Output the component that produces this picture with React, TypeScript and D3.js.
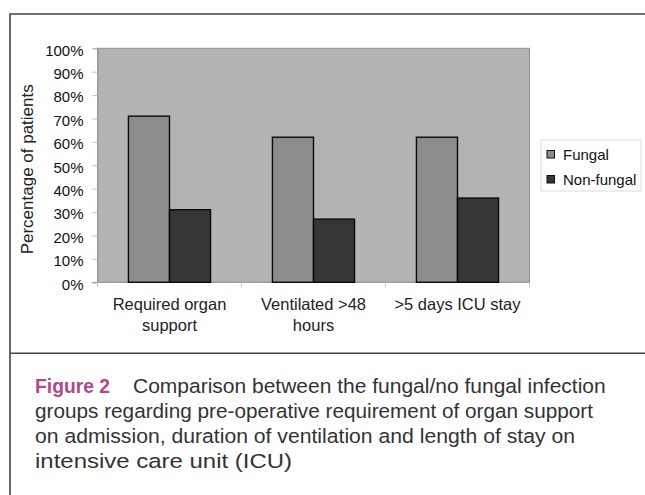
import { useEffect, useRef } from "react"
import * as d3 from "d3"

// data
const categories = [["Required organ", "support"], ["Ventilated >48", "hours"], [">5 days ICU stay"]]
const seriesNames = ["Fungal", "Non-fungal"]
const fungal = [71, 62, 62]
const nonFungal = [31, 27, 36]
const yTicks = [0, 10, 20, 30, 40, 50, 60, 70, 80, 90, 100]
const captionLines = [
  "Comparison between the fungal/no fungal infection",
  "groups regarding pre-operative requirement of organ support",
  "on admission, duration of ventilation and length of stay on",
  "intensive care unit (ICU)",
]

const FONT = "'Liberation Sans', Arial, sans-serif"

export default function App() {
  const svgRef = useRef<SVGSVGElement>(null)

  useEffect(() => {
    if (!svgRef.current) return
    const width = 645
    const height = 495
    const svg = d3.select(svgRef.current).attr("width", width).attr("height", height)
    svg.selectAll("*").remove()

    const colors = ["#8c8c8c", "#363636"]
    const plot = { left: 97.5, right: 529.5, top: 48.3, bottom: 282.3 }

    // outer frame
    svg
      .append("path")
      .attr("d", `M${width + 2},14 H10 V${height + 2} M10,353.3 H${width + 2}`)
      .attr("fill", "none")
      .attr("stroke", "#444")
      .attr("stroke-width", 1.6)

    const x0 = d3
      .scaleBand<number>()
      .domain(d3.range(categories.length))
      .range([plot.left, plot.right])
      .padding(0)
    const inset = x0.bandwidth() * 0.215
    const x1 = d3
      .scaleBand<string>()
      .domain(seriesNames)
      .range([inset, x0.bandwidth() - inset])
      .padding(0)
    const y = d3.scaleLinear().domain([0, 100]).range([plot.bottom, plot.top])

    // plot background
    svg
      .append("rect")
      .attr("x", plot.left)
      .attr("y", plot.top)
      .attr("width", plot.right - plot.left)
      .attr("height", plot.bottom - plot.top)
      .attr("fill", "#b3b3b3")
      .attr("stroke", "#8f8f8f")
      .attr("stroke-width", 1)

    // y axis
    const yAxis = svg.append("g").attr("transform", `translate(${plot.left},0)`)
    yAxis
      .call(
        d3
          .axisLeft(y)
          .tickValues(yTicks)
          .tickSize(5)
          .tickPadding(9)
          .tickFormat((d) => `${d}%`),
      )
    yAxis.select(".domain").attr("stroke", "#9a9a9a")
    yAxis.selectAll(".tick line").attr("stroke", "#bdbdbd")
    yAxis
      .selectAll(".tick text")
      .attr("fill", "#111")
      .attr("dy", "0.45em")
      .style("font-family", FONT)
      .style("font-size", "15px")

    // x axis line + category separators
    const xAxis = svg.append("g")
    xAxis
      .append("line")
      .attr("x1", plot.left - 5)
      .attr("x2", plot.right)
      .attr("y1", plot.bottom)
      .attr("y2", plot.bottom)
      .attr("stroke", "#a0a0a0")
    xAxis
      .selectAll(".sep")
      .data(d3.range(categories.length + 1))
      .enter()
      .append("line")
      .attr("x1", (i) => (i < categories.length ? x0(i)! : plot.right))
      .attr("x2", (i) => (i < categories.length ? x0(i)! : plot.right))
      .attr("y1", plot.bottom)
      .attr("y2", plot.bottom + 5)
      .attr("stroke", "#c8c8c8")

    // bars
    const groups = svg
      .selectAll(".grp")
      .data(categories.map((_, i) => i))
      .enter()
      .append("g")
      .attr("transform", (i) => `translate(${x0(i)},0)`)

    groups
      .selectAll("rect")
      .data((i) => [fungal[i], nonFungal[i]].map((v, s) => ({ v, s })))
      .enter()
      .append("rect")
      .attr("x", (d) => x1(seriesNames[d.s])!)
      .attr("y", (d) => y(d.v))
      .attr("width", x1.bandwidth())
      .attr("height", (d) => y(0) - y(d.v))
      .attr("fill", (d) => colors[d.s])
      .attr("stroke", "#0a0a0a")
      .attr("stroke-width", 1.4)

    // category labels
    const catLabels = svg
      .selectAll(".cat")
      .data(categories)
      .enter()
      .append("text")
      .attr("text-anchor", "middle")
      .attr("fill", "#222")
      .style("font-family", FONT)
      .style("font-size", "16.5px")
    catLabels
      .selectAll("tspan")
      .data((d, i) => d.map((t) => ({ t, i })))
      .enter()
      .append("tspan")
      .attr("x", (d) => x0(d.i)! + x0.bandwidth() / 2)
      .attr("y", (d, j) => 309.5 + j * 21)
      .text((d) => d.t)

    // y axis title
    svg
      .append("text")
      .attr("transform", `translate(33,${(plot.top + plot.bottom) / 2 + 4}) rotate(-90)`)
      .attr("text-anchor", "middle")
      .attr("fill", "#222")
      .style("font-family", FONT)
      .style("font-size", "17px")
      .text("Percentage of patients")

    // legend
    const legend = svg.append("g")
    legend
      .append("rect")
      .attr("x", 541)
      .attr("y", 140)
      .attr("width", 100)
      .attr("height", 51)
      .attr("fill", "#fff")
      .attr("stroke", "#dcdcdc")
    const items = legend
      .selectAll(".item")
      .data(seriesNames)
      .enter()
      .append("g")
      .attr("transform", (d, i) => `translate(547,${150.5 + i * 25})`)
    items
      .append("rect")
      .attr("width", 7.5)
      .attr("height", 7.5)
      .attr("fill", (d, i) => colors[i])
      .attr("stroke", "#111")
    items
      .append("text")
      .attr("x", 16)
      .attr("y", 9)
      .attr("fill", "#111")
      .style("font-family", FONT)
      .style("font-size", "15px")
      .text((d) => d)

    // caption
    const caption = svg.append("text").attr("fill", "#333").style("font-family", FONT).style("font-size", "20.5px")
    caption
      .append("tspan")
      .attr("x", 35)
      .attr("y", 393.3)
      .attr("fill", "#b0488b")
      .style("font-weight", "bold")
      .attr("textLength", 75)
      .attr("lengthAdjust", "spacingAndGlyphs")
      .text("Figure 2")
    const lineEnds = [605.7, 593, 575, 292]
    captionLines.forEach((line, i) => {
      const start = i === 0 ? 133 : 35
      caption
        .append("tspan")
        .attr("x", start)
        .attr("y", 393.3 + i * 25)
        .attr("textLength", lineEnds[i] - start)
        .attr("lengthAdjust", "spacingAndGlyphs")
        .text(line)
    })
  }, [])

  return (
    <div style={{ position: "absolute", left: 0, top: 0 }}>
      <svg ref={svgRef} style={{ display: "block", background: "#fff" }} />
    </div>
  )
}
